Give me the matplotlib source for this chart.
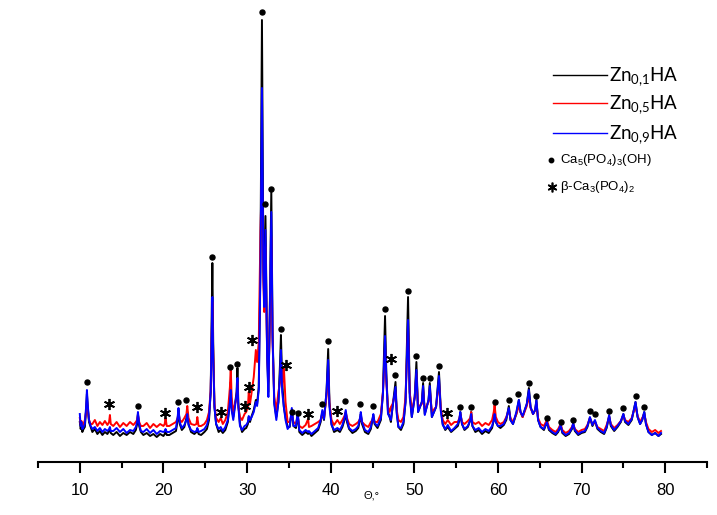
import matplotlib
matplotlib.use('Agg')
import matplotlib.pyplot as plt
from matplotlib.lines import Line2D

plt.rcParams['mathtext.default'] = 'regular'

# 2-theta grid (degrees)
two_theta = [
    10.0, 10.1, 10.2, 10.3, 10.45, 10.6,
    10.75, 10.85, 10.95, 11.1, 11.3,
    11.5, 11.8, 12.1, 12.4, 12.7, 13.0, 13.3,
    13.5, 13.6, 13.7,
    14.0, 14.4, 14.8, 15.2, 15.6, 16.0, 16.4, 16.7,
    16.85, 16.95, 17.1, 17.3,
    17.6, 18.0, 18.4, 18.8, 19.2, 19.6, 20.0,
    20.15, 20.25, 20.4,
    20.7, 21.1, 21.5,
    21.7, 21.8, 21.95,
    22.2, 22.5,
    22.75, 22.85, 23.0,
    23.3, 23.7,
    23.95, 24.05, 24.2,
    24.5, 24.9, 25.2, 25.45, 25.65,
    25.78, 25.85, 25.95, 26.1, 26.3,
    26.6, 26.85, 27.1, 27.4, 27.7,
    27.95, 28.05, 28.15, 28.35,
    28.75, 28.85, 28.95, 29.15,
    29.4, 29.7, 29.9,
    30.1, 30.2, 30.35, 30.55,
    30.8, 31.05, 31.2, 31.4, 31.6,
    31.78, 31.95, 32.05, 32.2, 32.4, 32.55, 32.7, 32.9, 33.05, 33.25, 33.5, 33.75,
    33.95, 34.05, 34.2, 34.4, 34.6, 34.85,
    35.1, 35.35, 35.55, 35.85, 36.05, 36.25,
    36.6, 37.0, 37.3, 37.4, 37.7, 38.1, 38.5,
    38.8, 39.0, 39.2, 39.5, 39.7, 39.85, 40.1,
    40.4, 40.8, 41.1, 41.4,
    41.65, 41.8, 41.95, 42.2,
    42.6, 43.0, 43.3,
    43.5, 43.6, 43.75,
    44.1, 44.5, 44.8,
    45.0, 45.1, 45.25,
    45.6, 46.0, 46.25,
    46.5, 46.65, 46.85,
    47.05, 47.2, 47.4,
    47.75, 47.9, 48.1,
    48.4, 48.7, 48.95,
    49.25, 49.45, 49.7,
    50.05, 50.25, 50.45,
    50.9, 51.05, 51.25,
    51.7, 51.85, 52.1,
    52.6, 52.95, 53.15, 53.4,
    53.7, 54.0, 54.4, 54.8, 55.2,
    55.4, 55.5, 55.7,
    56.0, 56.4,
    56.7, 56.8, 56.95,
    57.3, 57.7, 58.1, 58.5, 58.9, 59.3,
    59.5, 59.6, 59.75, 60.0,
    60.3, 60.7, 61.0,
    61.3, 61.5, 61.8,
    62.2, 62.5, 62.7, 62.95,
    63.45, 63.7, 63.9, 64.2,
    64.45, 64.6, 64.8, 65.1,
    65.5, 65.85, 66.1, 66.5, 66.9, 67.2,
    67.5, 67.7, 68.1, 68.5,
    68.85, 69.0, 69.2, 69.6, 70.0, 70.4, 70.7,
    71.0, 71.3, 71.6, 71.9, 72.3,
    72.7, 73.0,
    73.3, 73.5, 73.9, 74.3, 74.7,
    75.0, 75.2, 75.6, 76.0, 76.2,
    76.45, 76.7, 77.0, 77.25,
    77.5, 77.7, 78.0, 78.4, 78.8, 79.2, 79.5,
]

# Intensities (a.u.) for Zn0,1HA (black)
zn01 = [
    40, 33, 36, 30, 33, 35,
    52, 68, 55, 40, 35,
    30, 33, 28, 31, 27, 30, 28,
    31, 33, 29,
    27, 30, 26, 29, 27, 30, 28, 32,
    38, 48, 36, 30,
    27, 29, 26, 28, 25, 28, 26,
    28, 31, 27,
    27, 29, 31,
    42, 52, 38,
    32, 35,
    44, 50, 38,
    30, 28,
    30, 33, 28,
    27, 30, 33, 42, 70,
    150, 199, 120, 55, 38,
    30, 32, 29, 32, 40,
    60, 80, 55, 45,
    70, 94, 60, 38,
    30, 33, 34,
    38, 45, 40, 46,
    52, 62, 58, 75, 200,
    442, 200, 160, 246, 110, 70, 140, 272, 130, 60, 45, 60,
    100, 127, 80, 55, 45, 35,
    35, 52, 36, 34, 48, 30,
    27, 30, 28, 30, 26, 29, 32,
    40, 50, 42, 70, 113, 60, 38,
    30, 32, 30, 35,
    42, 50, 40, 33,
    29, 31, 34,
    42, 48, 38,
    30, 28, 33,
    42, 47, 38,
    34, 42, 70,
    146, 90, 50,
    45, 40, 55,
    80, 50, 35,
    32, 38, 60,
    165, 70, 45,
    65, 100, 50,
    60, 79, 48,
    62, 79, 45,
    55, 90, 55, 38,
    32, 35, 30, 33, 36,
    42, 50, 38,
    32, 35,
    42, 50, 36,
    30, 32, 28, 31, 29, 34,
    42, 48, 40, 36,
    34, 37, 42,
    56, 42, 38,
    48, 62, 50, 45,
    58, 74, 55, 48,
    52, 62, 42, 35,
    32, 40, 32, 29, 27, 30,
    36, 29, 26, 28,
    33, 38, 31, 27, 29, 30, 35,
    44, 36, 41, 33, 30,
    28, 34,
    46, 36, 31, 35, 40,
    48, 40, 37, 42, 50,
    60, 45, 38, 42,
    50, 38, 30, 27, 29, 26, 28,
]

# Intensities (a.u.) for Zn0,5HA (red)
zn05 = [
    44, 38, 41, 36, 38, 42,
    50, 62, 52, 42, 38,
    38, 42, 36, 40, 37, 41, 37,
    40, 47, 38,
    36, 40, 35, 39, 36, 40, 37, 40,
    42, 47, 40, 36,
    36, 39, 34, 38, 35, 38, 36,
    38, 44, 36,
    36, 38, 40,
    44, 50, 42,
    40, 44,
    48, 56, 44,
    38, 37,
    38, 45, 36,
    36, 38, 42, 50, 72,
    130, 160, 110, 58, 44,
    40, 44, 38, 42, 50,
    75, 95, 65, 50,
    65, 80, 55, 45,
    42, 48, 50,
    55, 70, 58, 70,
    85, 112, 100, 120, 230,
    290, 180, 150, 215, 110, 80, 130, 225, 120, 65, 52, 70,
    80, 100, 75, 95, 60, 40,
    40, 48, 40, 38, 46, 36,
    34, 37, 43, 35, 36, 38, 40,
    42, 48, 44, 65, 92, 58, 42,
    37, 42, 38, 42,
    46, 50, 44, 38,
    36, 38, 40,
    43, 46, 40,
    37, 35, 40,
    42, 45, 40,
    40, 48, 70,
    115, 80, 55,
    50, 55, 58,
    70, 52, 42,
    40, 45, 65,
    135, 70, 50,
    65, 88, 55,
    58, 72, 52,
    60, 72, 50,
    55, 80, 55, 42,
    38, 42, 37, 40, 40,
    44, 48, 40,
    38, 41,
    44, 50, 40,
    38, 40, 36, 39, 37, 42,
    50, 57, 45, 40,
    38, 40, 45,
    52, 44, 40,
    48, 56, 50, 45,
    56, 66, 54, 48,
    52, 58, 44, 38,
    36, 42, 35, 32, 30, 33,
    38, 32, 29, 31,
    35, 38, 33, 30, 32, 33, 37,
    44, 38, 40, 35, 33,
    31, 37,
    45, 38, 34, 37, 41,
    47, 42, 40, 44, 50,
    55, 46, 40, 44,
    48, 40, 33, 30, 32, 29, 31,
]

# Intensities (a.u.) for Zn0,9HA (blue)
zn09 = [
    48, 36, 40, 33, 35, 38,
    55, 72, 57, 42, 36,
    33, 35, 31, 34, 30, 33, 31,
    33, 35, 31,
    31, 34, 30, 33, 29, 32, 31, 35,
    40, 50, 38, 31,
    30, 33, 29, 32, 28, 31, 30,
    31, 33, 30,
    30, 32, 34,
    45, 54, 40,
    34, 37,
    42, 48, 37,
    32, 30,
    31, 34, 30,
    31, 33, 37, 45, 70,
    135, 165, 105, 55, 38,
    33, 35, 31, 35, 42,
    60, 72, 52, 42,
    68, 84, 56, 36,
    32, 36, 37,
    40, 46, 42, 45,
    50, 60, 56, 72, 190,
    374, 190, 155, 232, 105, 65, 140, 250, 125, 58, 42, 60,
    90, 112, 70, 55, 42, 33,
    36, 54, 36, 36, 50, 32,
    29, 32, 30, 31, 28, 31, 34,
    42, 52, 43, 70, 102, 55, 37,
    32, 34, 32, 37,
    44, 52, 42, 34,
    31, 33, 36,
    44, 50, 40,
    32, 30, 35,
    43, 48, 39,
    36, 44, 68,
    126, 85, 48,
    45, 42, 55,
    75, 48, 35,
    34, 40, 60,
    142, 65, 45,
    65, 92, 50,
    60, 76, 47,
    62, 76, 45,
    55, 86, 52, 37,
    33, 37, 31, 34, 38,
    44, 50, 38,
    33, 36,
    42, 48, 36,
    32, 34, 30, 33, 31, 36,
    42, 48, 40, 36,
    36, 38, 44,
    54, 42, 38,
    50, 62, 50, 46,
    58, 72, 55, 48,
    52, 62, 42, 35,
    33, 40, 33, 30, 28, 31,
    37, 30, 27, 29,
    34, 39, 32, 28, 30, 31, 36,
    45, 37, 42, 34, 31,
    29, 35,
    47, 37, 32, 36, 41,
    48, 41, 38, 43, 50,
    60, 45, 38, 42,
    50, 38, 30, 27, 29, 26, 29,
]

assert len(two_theta) == len(zn01) == len(zn05) == len(zn09)

# Phase markers: hydroxyapatite (dots) and beta-TCP (asterisks)
ha_theta = [10.9, 16.95, 21.75, 22.7, 25.85, 28.0, 28.85, 31.75, 32.2, 32.85,
            34.0, 35.35, 36.05, 39.0, 39.65, 41.75, 43.55, 45.1, 46.45, 47.7,
            49.2, 50.2, 51.0, 51.85, 52.95, 55.5, 56.75, 59.6, 61.3, 62.45,
            63.7, 64.6, 65.85, 67.5, 69.0, 71.0, 71.6, 73.3, 75.0, 76.45, 77.5]
ha_level = [80, 56, 60, 62, 205, 95, 98, 450, 258, 273,
            133, 50, 49, 58, 121, 61, 58, 56, 153, 87,
            171, 106, 84, 84, 96, 55, 55, 60, 62, 68,
            79, 66, 44, 40, 42, 51, 48, 51, 54, 66, 55]
tcp_theta = [13.5, 20.2, 24.0, 26.85, 29.7, 30.2, 30.55, 34.7, 37.3, 40.8, 47.2, 53.9]
tcp_level = [58, 49, 55, 50, 56, 75, 122, 97, 48, 51, 103, 49]

series = [zn01, zn05, zn09]
series_labels = ['Zn$_{0{,}1}$HA', 'Zn$_{0{,}5}$HA', 'Zn$_{0{,}9}$HA']
series_colors = ['#000000', '#ff0000', '#0000ff']
x_ticks = [10, 20, 30, 40, 50, 60, 70, 80]
x_minor = [5, 15, 25, 35, 45, 55, 65, 75, 85]
phase_labels = ['Ca$_5$(PO$_4$)$_3$(OH)', 'β-Ca$_3$(PO$_4$)$_2$']

W, H = 717, 515
fig = plt.figure(figsize=(W / 100, H / 100), dpi=100)
ax = fig.add_axes([38 / W, 53 / H, 669 / W, 462 / H])

for y, c, lab in zip(series, series_colors, series_labels):
    ax.plot(two_theta, y, color=c, lw=1.4, label=lab)

ax.plot(ha_theta, ha_level, ls='none', marker='o', color='black', ms=3.6, clip_on=False)
ax.plot(tcp_theta, tcp_level, ls='none', marker=(6, 2, 0), color='black', ms=8, mew=1.3,
        clip_on=False)

ax.set_xlim(5, 85)
ax.set_ylim(0, 462)
for s in ['left', 'right', 'top']:
    ax.spines[s].set_visible(False)
ax.spines['bottom'].set_linewidth(1.5)
ax.set_yticks([])
ax.set_xticks(x_ticks)
ax.set_xticks(x_minor, minor=True)
ax.tick_params(axis='x', which='major', length=8, width=1.5, direction='out', pad=7,
               labelsize=12)
ax.tick_params(axis='x', which='minor', length=4, width=1.5, direction='out')
for t in ax.get_xticklabels():
    t.set_family('Liberation Sans')

fig.text(372 / W, 1 - 495 / H, 'Θ,°', fontsize=8, ha='center', va='center',
         family='Liberation Sans')

# Legend (manual placement)
for i, (c, lab) in enumerate(zip(series_colors, series_labels)):
    yl = [75, 103, 133][i]
    fig.add_artist(Line2D([553 / W, 607 / W], [1 - yl / H] * 2, color=c, lw=1.0))
    fig.text(609 / W, 1 - (yl + 6) / H, lab, fontsize=13.5, family='Lato',
             ha='left', va='baseline')

fig.add_artist(Line2D([551 / W], [1 - 160 / H], marker='o', color='black', ms=3.2))
fig.text(560 / W, 1 - 160 / H, phase_labels[0], fontsize=9.5, family='Liberation Sans',
         ha='left', va='center')
fig.add_artist(Line2D([552 / W], [1 - 187 / H], marker=(6, 2, 0), color='black', ms=7,
                      mew=1.2))
fig.text(560 / W, 1 - 187 / H, phase_labels[1], fontsize=9.5, family='Liberation Sans',
         ha='left', va='center')

fig.savefig('out.png', dpi=100)
